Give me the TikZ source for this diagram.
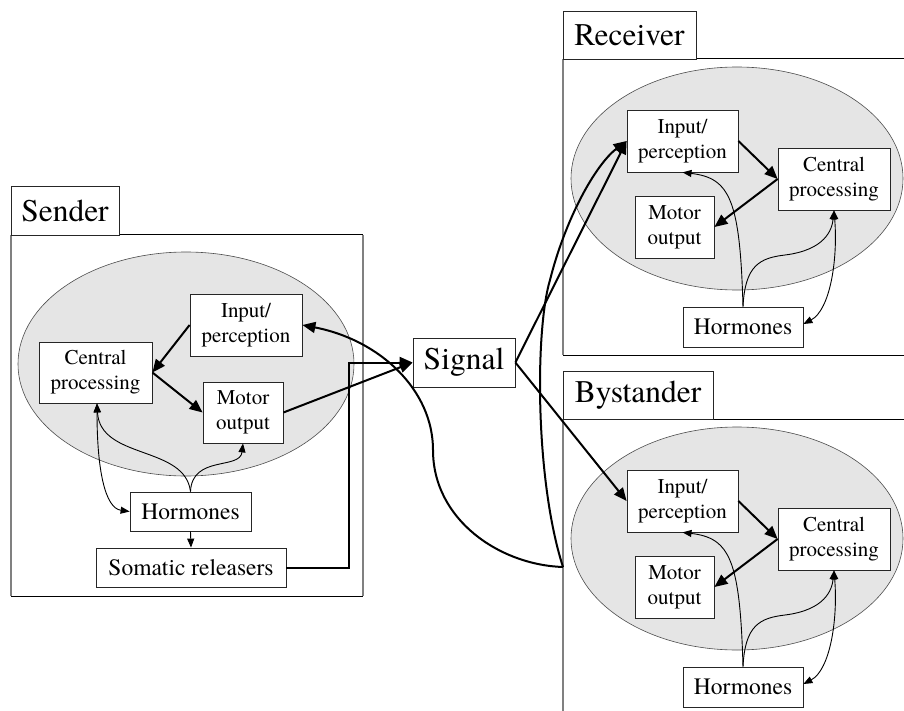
\documentclass[tikz,border=0pt]{standalone}
\usepackage{fontspec}
\setmainfont{TeX Gyre Termes}
\usetikzlibrary{arrows.meta,calc}
\definecolor{ellfill}{gray}{0.9}
\definecolor{sidegray}{gray}{0.5}
\tikzset{
  box/.style={draw=black!85, line width=0.8pt, fill=white, inner sep=0pt, align=center, font=\fontsize{21}{25}\selectfont},
  hbox/.style={box, font=\fontsize{23.5}{28}\selectfont},
  tbox/.style={box, font=\fontsize{31.5}{36}\selectfont},
  bigarrow/.style={line width=2pt, -{Triangle[length=13pt,width=11pt]}},
  smallarrow/.style={line width=0.9pt, -{Triangle[length=9pt,width=7pt]}},
  smallboth/.style={line width=0.9pt, {Triangle[length=9pt,width=7pt]}-{Triangle[length=9pt,width=7pt]}},
  cell/.style={draw=black!70, line width=0.6pt, fill=ellfill},
  frameh/.style={line width=1pt, black},
  framev/.style={line width=1.4pt, sidegray},
}
\begin{document}
\begin{tikzpicture}[x=1pt,y=-1pt]
\useasboundingbox (0,0) rectangle (904,711);
% frames
\draw[framev] (11,235) -- (11,596);
\draw[framev] (363,235) -- (363,596);
\draw[frameh] (11,235) -- (363,235);
\draw[frameh] (11,596) -- (363,596);
\draw[framev] (563,59) -- (563,355);
\draw[frameh] (563,59) -- (904,59);
\draw[frameh] (563,355) -- (904,355);
\draw[framev] (563,419) -- (563,711);
\draw[frameh] (563,419) -- (904,419);
% titles
\node[tbox, minimum width=108pt, minimum height=49pt] (stitle) at (65,210.5) {Sender};
\node[tbox, minimum width=133pt, minimum height=48pt] (rtitle) at (629.5,35) {Receiver};
\node[tbox, minimum width=150pt, minimum height=48pt] (btitle) at (638,395) {Bystander};
% sender
\draw[cell] (186,364) ellipse [x radius=168pt, y radius=112pt];
\node[box, minimum width=112pt, minimum height=62pt] (sin) at (246,325) {Input/\\perception};
\node[box, minimum width=113pt, minimum height=61pt] (scp) at (95.5,372.5) {Central\\processing};
\node[box, minimum width=80pt, minimum height=61pt] (smo) at (243,412.5) {Motor\\output};
\node[hbox, minimum width=121pt, minimum height=39pt] (shor) at (190.5,511.5) {Hormones};
\node[hbox, minimum width=190pt, minimum height=39pt] (ssom) at (191,567.5) {Somatic releasers};
\node[tbox, minimum width=102pt, minimum height=49pt] (sig) at (464,362.5) {Signal};
\draw[bigarrow] (sin.west) -- (scp.east);
\draw[bigarrow] (scp.east) -- (smo.west);
\draw[bigarrow] (smo.east) -- (sig.west);
\draw[bigarrow] (ssom.east) -| ([xshift=-64pt]sig.west) -- (sig.west);
\draw[smallarrow] (shor.south) -- (ssom.north);
\draw[smallboth] ([xshift=1.5pt]scp.south) .. controls (97,470) and (105,508) .. (shor.west);
\draw[smallarrow] (shor.north) .. controls (185,445) and (100,460) .. ([xshift=1.5pt]scp.south);
\draw[smallarrow] (shor.north) .. controls (192,455) and (240,470) .. (smo.south);
% receiver and bystander
\foreach \p/\dy in {r/0,b/360}{
  \begin{scope}[yshift=-\dy pt]
    \draw[cell] (737,178.5) ellipse [x radius=166pt, y radius=111.5pt];
    \node[box, minimum width=111pt, minimum height=62pt] (\p-in) at (682.5,141) {Input/\\perception};
    \node[box, minimum width=112pt, minimum height=62pt] (\p-cp) at (834,179) {Central\\processing};
    \node[box, minimum width=79pt, minimum height=62pt] (\p-mo) at (674.5,227) {Motor\\output};
    \node[hbox, minimum width=120pt, minimum height=40pt] (\p-hor) at (743,327) {Hormones};
    \draw[bigarrow] (\p-in.east) -- (\p-cp.west);
    \draw[bigarrow] (\p-cp.west) -- (\p-mo.east);
    \draw[smallarrow] (\p-hor.north) .. controls (740,200) and (730,178) .. (\p-in.south);
    \draw[smallarrow] (\p-hor.north) .. controls (745,265) and (760,258) .. (785,255) .. controls (825,250) and (832,230) .. (\p-cp.south);
    \draw[smallboth] (\p-cp.south) .. controls (838,260) and (830,310) .. ([yshift=3pt]\p-hor.east);
  \end{scope}
}
% signal outputs
\draw[bigarrow] (sig.east) -- (r-in.west);
\draw[bigarrow] (sig.east) -- (b-in.west);
\coordinate (bj) at (563,567);
\draw[bigarrow] (bj) .. controls (500,565) and (433,520) .. (433,450) .. controls (433,390) and (380,340) .. (sin.east);
\draw[bigarrow] (bj) .. controls (535,480) and (535,330) .. (550,280) .. controls (565,220) and (595,165) .. (r-in.west);
\end{tikzpicture}
\end{document}
